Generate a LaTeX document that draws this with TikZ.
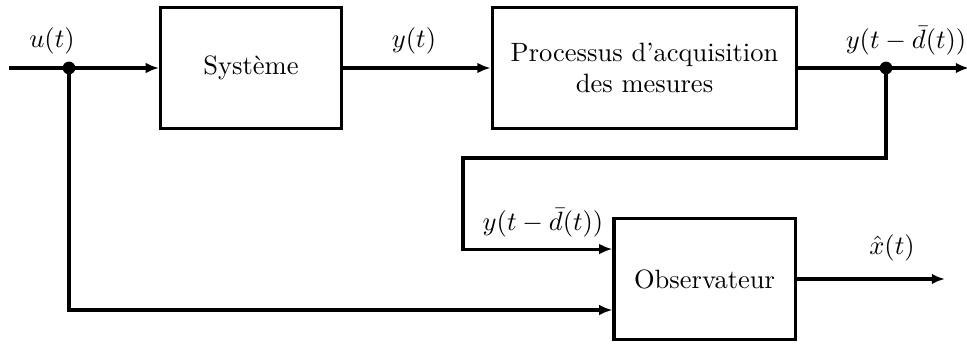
\documentclass[tikz,border=0pt]{standalone}
\usetikzlibrary{arrows.meta}
\begin{document}
\begin{tikzpicture}[x=0.01326cm,y=-0.01326cm,line width=1.15pt,bloc/.style={draw,minimum width=68.3pt,minimum height=45.3pt,inner xsep=7pt,align=center},arrow/.style={-{Latex[length=5pt,width=4pt]}},dot/.style={circle,fill,inner sep=0pt,minimum size=4.8pt},etiq/.style={inner sep=0pt}]
                \useasboundingbox (0,0) rectangle (967,345);
                \def\ymain{68} %ligne principale
                % blocs
                \node[bloc] (sys) at (251,\ymain) {Système};
                \node[bloc] (acq) at (644.5,\ymain) {Processus d'acquisition\\des mesures};
                \node[bloc] (obs) at (704.5,279) {Observateur};
                \coordinate (in) at (9,\ymain);
                \coordinate (out) at (969,\ymain);
                \coordinate (uo) at (69,\ymain);
                \coordinate (yo) at (886,\ymain);
                \coordinate (fb) at (463,158);
                \coordinate (xo) at (945,279);
                % liaisons
                \draw[arrow] (in)--(sys);
                \draw[arrow] (sys)--(acq);
                \draw[arrow] (acq)--(out);
                \draw[arrow] (uo)|-([yshift=-11.7pt]obs.west);
                \draw[arrow] (yo)|-(fb)|-([yshift=11.3pt]obs.west);
                \draw[arrow] (obs)--(xo);
                \node[dot] (du) at (uo) {};
                \node[dot] (dy) at (yo) {};
                % etiquettes
                \foreach \n/\p/\t in {lu/{52,41}/{$u(t)$},ly/{414,41}/{$y(t)$},lyd/{906,41}/{$y(t-\bar{d}(t))$},lydo/{543,223}/{$y(t-\bar{d}(t))$},lx/{892,248}/{$\hat{x}(t)$}}
                    \node[etiq] (\n) at (\p) {\t};
            \end{tikzpicture}
\end{document}
